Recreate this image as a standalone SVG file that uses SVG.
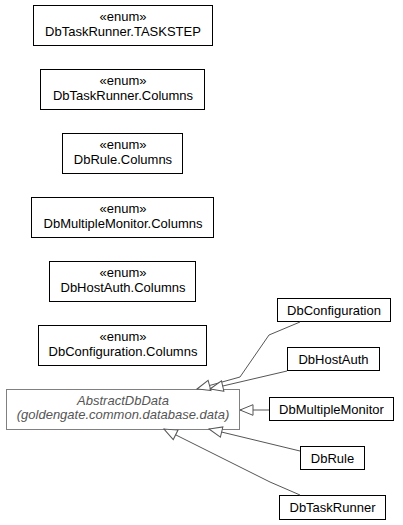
<svg xmlns="http://www.w3.org/2000/svg" width="403" height="525" viewBox="0 0 403 525">
<style>
  .box{fill:#fff;stroke:#000;stroke-width:1}
  .abs{fill:#fff;stroke:#808080;stroke-width:1}
  text{font-family:"Liberation Sans",Arial,sans-serif;font-size:13px;fill:#000;text-anchor:middle}
  .it{font-style:italic;fill:#555}
  .conn{fill:none;stroke:#555;stroke-width:1;marker-end:url(#gen)}
</style>
<defs>
  <marker id="gen" markerUnits="userSpaceOnUse" markerWidth="16" markerHeight="14" viewBox="-14 -7 16 14" refX="0" refY="0" orient="auto" overflow="visible">
    <path d="M-13,-5.3 L0,0 L-13,5.3 Z" fill="#fff" stroke="#555" stroke-width="1"/>
  </marker>
</defs>
<rect width="403" height="525" fill="#fff"/>
<g id="n1"><rect class="box" x="33.5" y="5.5" width="179" height="40"/><text x="123" y="20.5">«enum»</text><text x="123" y="36">DbTaskRunner.TASKSTEP</text></g>
<g id="n2"><rect class="box" x="40.5" y="69.5" width="164" height="40"/><text x="123" y="84.5">«enum»</text><text x="123" y="100">DbTaskRunner.Columns</text></g>
<g id="n3"><rect class="box" x="62.5" y="133.5" width="120" height="40"/><text x="123" y="148.5">«enum»</text><text x="123" y="164">DbRule.Columns</text></g>
<g id="n4"><rect class="box" x="31.5" y="197.5" width="182" height="40"/><text x="123" y="212.5">«enum»</text><text x="123" y="228">DbMultipleMonitor.Columns</text></g>
<g id="n5"><rect class="box" x="49.5" y="261.5" width="146" height="40"/><text x="123" y="276.5">«enum»</text><text x="123" y="292">DbHostAuth.Columns</text></g>
<g id="n6"><rect class="box" x="38.5" y="325.5" width="168" height="40"/><text x="123" y="340.5">«enum»</text><text x="123" y="356">DbConfiguration.Columns</text></g>
<g id="abstract"><rect class="abs" x="6.5" y="389.5" width="233" height="40"/><text class="it" x="123" y="405">AbstractDbData</text><text class="it" x="123" y="419">(goldengate.common.database.data)</text></g>
<g id="dbconfiguration"><rect class="box" x="277.5" y="298.5" width="113" height="23"/><text x="334" y="314.5">DbConfiguration</text></g>
<g id="dbhostauth"><rect class="box" x="287.5" y="347.5" width="92" height="23"/><text x="333.5" y="363.5">DbHostAuth</text></g>
<g id="dbmultiplemonitor"><rect class="box" x="269.5" y="397.5" width="124" height="23"/><text x="331.5" y="413.5">DbMultipleMonitor</text></g>
<g id="dbrule"><rect class="box" x="300.5" y="446.5" width="64" height="23"/><text x="332.5" y="462.5">DbRule</text></g>
<g id="dbtaskrunner"><rect class="box" x="279.5" y="495.5" width="106" height="24"/><text x="332.5" y="512">DbTaskRunner</text></g>
<g id="connectors">
  <polyline class="conn" points="300,322 269,335 240,377 197,389"/>
  <polyline class="conn" points="287,371 210,389"/>
  <polyline class="conn" points="269,410 240,410"/>
  <polyline class="conn" points="300,451 209,429"/>
  <polyline class="conn" points="300,495 270,482 164,429"/>
</g>
</svg>
